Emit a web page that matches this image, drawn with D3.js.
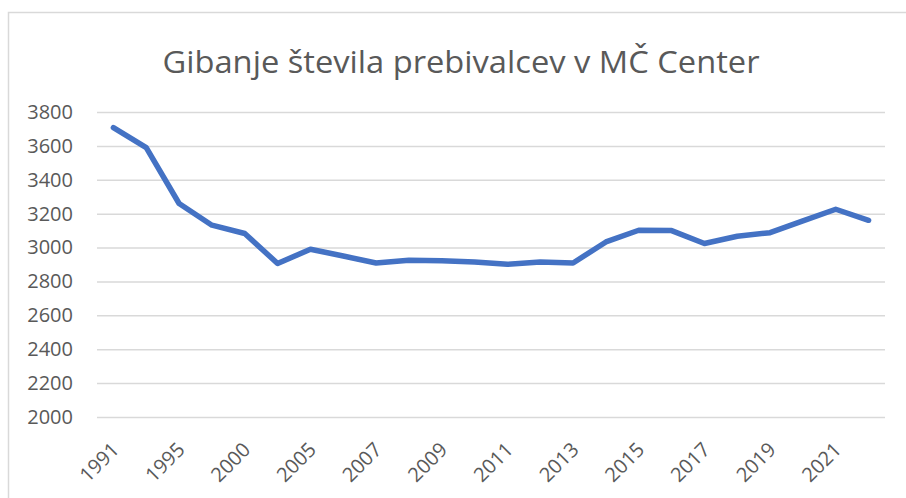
<!DOCTYPE html>
<html>
<head>
<meta charset="utf-8">
<script src="https://cdn.jsdelivr.net/npm/d3@7"></script>
<style>
  body { margin: 0; background: #fff; }
  svg { display: block; }
  text { font-family: 'Open Sans', sans-serif; fill: #595959; }
</style>
</head>
<body>
<svg id="chart" width="906" height="498"></svg>
<script>
'use strict'

// leta (oznake na osi so samo pri vsakem drugem letu)
const years = ['1991', '1993', '1995', '1998', '2000', '2003', '2005', '2006',
  '2007', '2008', '2009', '2010', '2011', '2012', '2013', '2014', '2015',
  '2016', '2017', '2018', '2019', '2020', '2021', '2022']
const residents = [3708, 3590, 3260, 3132, 3083, 2906, 2990, 2950,
  2909, 2925, 2922, 2915, 2901, 2915, 2909, 3033, 3102,
  3100, 3024, 3067, 3088, 3157, 3226, 3161]
const yTicks = [2000, 2200, 2400, 2600, 2800, 3000, 3200, 3400, 3600, 3800]
const title = 'Gibanje števila prebivalcev v MČ Center'

const svg = d3.select('#chart')
const margin = {left: 97, right: 21, top: 112, bottom: 81}
const width = 906 - margin.left - margin.right
const height = 498 - margin.top - margin.bottom

// okvir grafa
svg.append('rect')
  .attr('x', 8.5).attr('y', 12.5)
  .attr('width', 920).attr('height', 520)
  .attr('fill', 'none')
  .attr('stroke', '#d9d9d9')
  .attr('stroke-width', 1.5)

svg.append('text')
  .attr('x', 461).attr('y', 73)
  .attr('text-anchor', 'middle')
  .style('font-size', '31px')
  .attr('textLength', 597)
  .attr('lengthAdjust', 'spacingAndGlyphs')
  .text(title)

const g = svg.append('g').attr('transform', `translate(${margin.left},${margin.top})`)

const x = d3.scaleBand().domain(years).range([0, width])
const y = d3.scaleLinear().domain([2000, 3800]).range([height, 0])

const yAxis = d3.axisLeft(y).tickValues(yTicks).tickFormat(d3.format('d'))
  .tickSize(-width).tickPadding(24)
g.append('g').attr('class', 'y axis').call(yAxis)
  .call(s => s.select('.domain').remove())
  .call(s => s.selectAll('.tick line').attr('stroke', '#d9d9d9').attr('stroke-width', 1.5))
  .call(s => s.selectAll('.tick text').style('font-size', '20px').attr('fill', '#595959'))

const xAxis = d3.axisBottom(x)
  .tickValues(years.filter((d, i) => i % 2 === 0))
  .tickSize(0)
g.append('g').attr('class', 'x axis')
  .attr('transform', `translate(0,${height})`)
  .call(xAxis)
  .call(s => s.select('.domain').remove())
  .call(s => s.selectAll('.tick text')
    .style('font-size', '20px')
    .attr('fill', '#595959')
    .attr('text-anchor', 'end')
    .attr('y', 0)
    .attr('dy', '0.35em')
    .attr('transform', 'translate(2,29) rotate(-45)'))

const line = d3.line()
  .x((d, i) => x(years[i]) + x.bandwidth() / 2)
  .y(d => y(d))

g.append('path')
  .datum(residents)
  .attr('fill', 'none')
  .attr('stroke', '#4472c4')
  .attr('stroke-width', 5.5)
  .attr('stroke-linejoin', 'round')
  .attr('stroke-linecap', 'round')
  .attr('d', line)
</script>
</body>
</html>
